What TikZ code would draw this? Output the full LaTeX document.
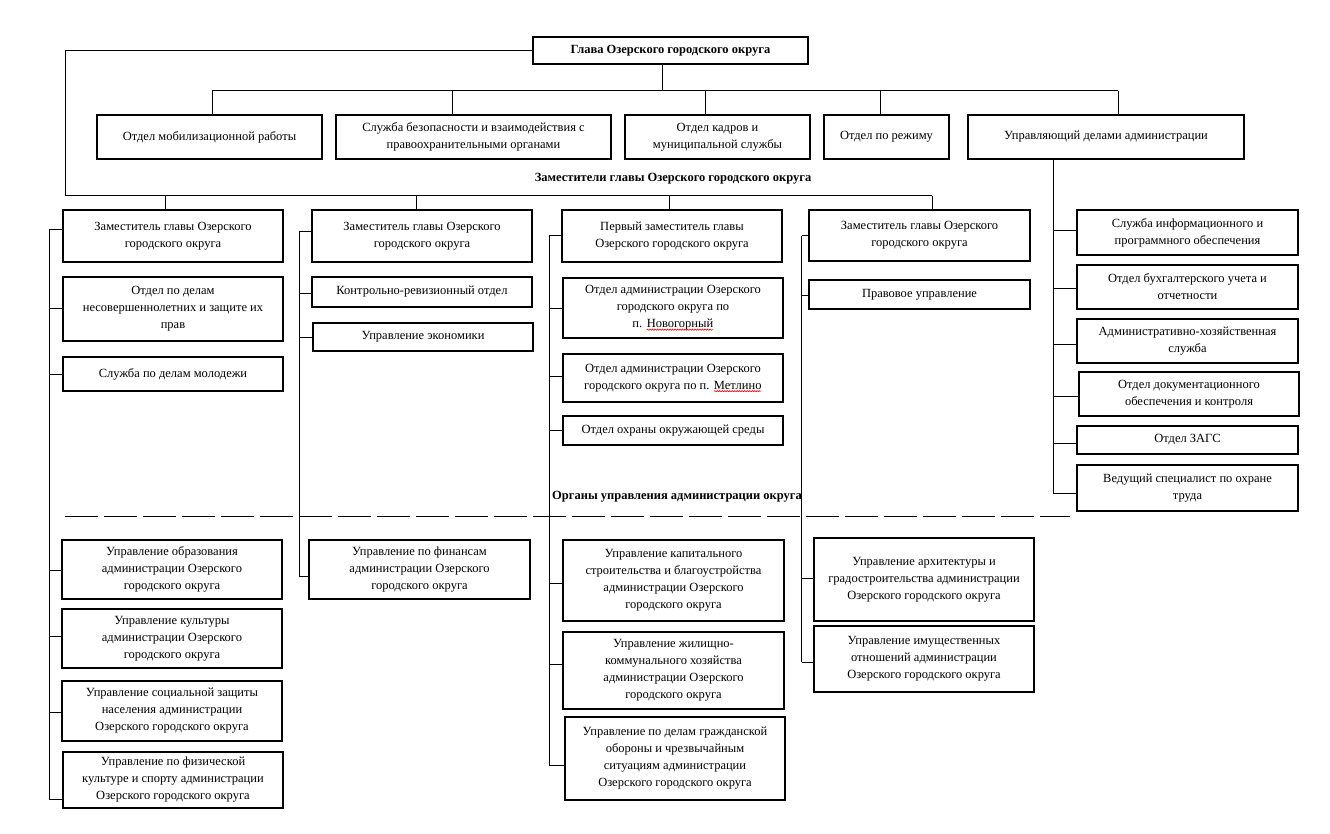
\documentclass[tikz,border=0pt]{standalone}
\usepackage{fontspec}
\setmainfont{Liberation Serif}
\usetikzlibrary{decorations.pathmorphing}
\newcommand{\redwave}[1]{\tikz[baseline=(w.base)]{\node[draw=none, minimum width=0pt, minimum height=0pt, inner sep=0pt, outer sep=0pt, anchor=center] (w) {#1}; \draw[red, line width=0.6pt, decorate, decoration={snake, amplitude=0.6pt, segment length=2.5pt}] ([yshift=-2pt]w.base west) -- ([yshift=-2pt]w.base east);}}
\tikzset{
  box/.style={draw, line width=2pt, align=center, inner sep=2pt, font=\fontsize{12.5}{17}\selectfont},
  conn/.style={line width=1pt},
  lbl/.style={font=\bfseries\fontsize{12.5}{17}\selectfont, inner sep=0pt}
}
\newcommand{\branch}[3]{\path ([yshift=#3 pt]#2.west) coordinate (tmpb); \draw[conn] (tmpb -| #1) -- (tmpb);}
\begin{document}
\begin{tikzpicture}[x=1pt,y=-1pt]
\useasboundingbox (0,0) rectangle (1330,834);
% head
\node[box, minimum width=275, minimum height=27, font=\bfseries\fontsize{12.5}{17}\selectfont] (head) at (670.5,50.5) {Глава Озерского городского округа};
% row 1
\node[box, minimum width=225, minimum height=44] (r1) at (209.5,137) {Отдел мобилизационной работы};
\node[box, minimum width=275, minimum height=44] (r2) at (473.5,137) {Служба безопасности и взаимодействия с\\правоохранительными органами};
\node[box, minimum width=185, minimum height=44] (r3) at (717.5,137) {Отдел кадров и\\муниципальной службы};
\node[box, minimum width=125, minimum height=44] (r4) at (886.5,137) {Отдел по режиму};
\node[box, minimum width=276, minimum height=44] (r5) at (1106,137) {Управляющий делами администрации};
\node[lbl] (zam) at (673,179) {Заместители главы Озерского городского округа};
% deputies
\node[box, minimum width=220, minimum height=52] (d1) at (173,236) {Заместитель главы Озерского\\городского округа};
\node[box, minimum width=220, minimum height=52] (d2) at (422,236) {Заместитель главы Озерского\\городского округа};
\node[box, minimum width=220, minimum height=52] (d3) at (672,236) {Первый заместитель главы\\Озерского городского округа};
\node[box, minimum width=221, minimum height=51] (d4) at (919.5,235.5) {Заместитель главы Озерского\\городского округа};
% column 1
\node[box, minimum width=220, minimum height=64] (c1a) at (173,309) {Отдел по делам\\несовершеннолетних и защите их\\прав};
\node[box, minimum width=220, minimum height=34] (c1b) at (173,374) {Служба по делам молодежи};
\node[box, minimum width=220, minimum height=59] (c1c) at (172,569.5) {Управление образования\\администрации Озерского\\городского округа};
\node[box, minimum width=220, minimum height=59] (c1d) at (172,638.5) {Управление культуры\\администрации Озерского\\городского округа};
\node[box, minimum width=220, minimum height=60] (c1e) at (172,711) {Управление социальной защиты\\населения администрации\\Озерского городского округа};
\node[box, minimum width=220, minimum height=56] (c1f) at (173,780) {Управление по физической\\культуре и спорту администрации\\Озерского городского округа};
% column 2
\node[box, minimum width=220, minimum height=30] (c2a) at (422,292) {Контрольно-ревизионный отдел};
\node[box, minimum width=220, minimum height=28] (c2b) at (423,337) {Управление экономики};
\node[box, minimum width=221, minimum height=59] (c2c) at (419.5,569.5) {Управление по финансам\\администрации Озерского\\городского округа};
% column 3
\node[box, minimum width=220, minimum height=60] (c3a) at (673,308) {Отдел администрации Озерского\\городского округа по\\п. \redwave{Новогорный}};
\node[box, minimum width=220, minimum height=48] (c3b) at (673,378) {Отдел администрации Озерского\\городского округа по п. \redwave{Метлино}};
\node[box, minimum width=220, minimum height=29] (c3c) at (673,430.5) {Отдел охраны окружающей среды};
\node[box, minimum width=221, minimum height=81] (c3d) at (673.5,580.5) {Управление капитального\\строительства и благоустройства\\администрации Озерского\\городского округа};
\node[box, minimum width=221, minimum height=77] (c3e) at (673.5,670.5) {Управление жилищно-\\коммунального хозяйства\\администрации Озерского\\городского округа};
\node[box, minimum width=220, minimum height=83] (c3f) at (675,758.5) {Управление по делам гражданской\\обороны и чрезвычайным\\ситуациям администрации\\Озерского городского округа};
% column 4
\node[box, minimum width=221, minimum height=29] (c4a) at (919.5,294.5) {Правовое управление};
\node[box, minimum width=220, minimum height=83] (c4b) at (924,579.5) {Управление архитектуры и\\градостроительства администрации\\Озерского городского округа};
\node[box, minimum width=220, minimum height=66] (c4c) at (924,659) {Управление имущественных\\отношений администрации\\Озерского городского округа};
% right column
\node[box, minimum width=221, minimum height=45] (e1) at (1187.5,232.5) {Служба информационного и\\программного обеспечения};
\node[box, minimum width=221, minimum height=44] (e2) at (1187.5,287) {Отдел бухгалтерского учета и\\отчетности};
\node[box, minimum width=221, minimum height=44] (e3) at (1187.5,341) {Административно-хозяйственная\\служба};
\node[box, minimum width=220, minimum height=44] (e4) at (1189,394) {Отдел документационного\\обеспечения и контроля};
\node[box, minimum width=221, minimum height=28] (e5) at (1187.5,440) {Отдел ЗАГС};
\node[box, minimum width=221, minimum height=46] (e6) at (1187.5,488) {Ведущий специалист по охране\\труда};
\node[lbl, anchor=west] (org) at (552,497) {Органы управления администрации округа};
% dashed separator
\coordinate (dashL) at (65,516);
\coordinate (dashR) at (1070,516);
\draw[conn, dash pattern=on 33pt off 6pt] (dashL) -- (dashR);
% top connectors
\coordinate (b1) at (212,91);
\coordinate (b2) at (452,91);
\coordinate (b3) at (705,91);
\coordinate (b4) at (880,91);
\coordinate (b5) at (1118,91);
\draw[conn] ([xshift=-8.5pt]head.south) -- (662,91);
\draw[conn] (b1) -- (b5);
\foreach \b/\r in {b1/r1,b2/r2,b3/r3,b4/r4,b5/r5} \draw[conn] (\b) -- (\b |- \r.north);
% deputies bus
\coordinate (dL) at (65.5,196);
\coordinate (dR) at (932,196);
\draw[conn] (head.west) -| (dL) -- (dR);
\coordinate (q1) at (165.5,196);
\coordinate (q2) at (416,196);
\coordinate (q3) at (669,196);
\foreach \q/\d in {q1/d1,q2/d2,q3/d3,dR/d4} \draw[conn] (\q) -- (\q |- \d.north);
% spines
\coordinate (s1t) at (49.3,230);
\coordinate (s1b) at (49.3,799);
\draw[conn] (s1t) -- (s1b);
\foreach \n/\dy in {d1/6,c1a/1,c1b/0,c1c/-0.5,c1d/2.5,c1e/-1.3,c1f/-19} {\branch{s1t}{\n}{\dy}}
\coordinate (s2t) at (299.3,231.7);
\coordinate (s2b) at (299.3,576.7);
\draw[conn] (s2t) -- (s2b);
\foreach \n/\dy in {d2/4.3,c2a/-1,c2b/0,c2c/-7.2} {\branch{s2t}{\n}{\dy}}
\coordinate (s3t) at (549.3,236);
\coordinate (s3b) at (549.3,765);
\draw[conn] (s3t) -- (s3b);
\foreach \n/\dy in {d3/0,c3a/-0.7,c3b/2,c3c/0.5,c3d/-2.5,c3e/6.5,c3f/-6.5} {\branch{s3t}{\n}{\dy}}
\coordinate (s4t) at (801.7,236);
\coordinate (s4b) at (801.7,662);
\draw[conn] (s4t) -- (s4b);
\foreach \n/\dy in {d4/-0.5,c4a/-0.5,c4b/1.5,c4c/-3} {\branch{s4t}{\n}{\dy}}
\coordinate (s5t) at (1053.3,159);
\coordinate (s5b) at (1053.3,493.3);
\draw[conn] (s5t |- r5.south) -- (s5b);
\foreach \n/\dy in {e1/1.8,e2/-2,e3/-3,e4/-2.7,e5/-3,e6/-5.3} {\branch{s5t}{\n}{\dy}}
\end{tikzpicture}
\end{document}
